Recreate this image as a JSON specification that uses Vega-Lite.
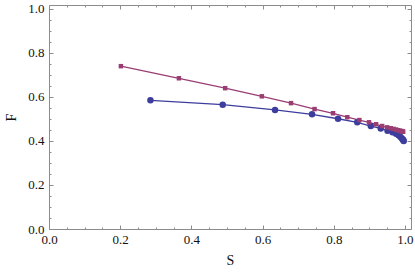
{
  "$schema": "https://vega.github.io/schema/vega-lite/v6.json",
  "width": 362,
  "height": 224,
  "autosize": {"type": "none"},
  "padding": {"left": 49, "top": 5, "right": 4, "bottom": 48},
  "background": "white",
  "config": {
    "view": {"stroke": "#8c8c8c", "strokeWidth": 1},
    "axis": {"labelFont": "Liberation Serif", "titleFont": "Liberation Serif", "labelFontSize": 13, "titleFontSize": 14, "titleFontWeight": "normal", "labelColor": "#111", "titleColor": "#111", "tickColor": "#8c8c8c", "domain": false, "grid": false, "labelOverlap": false, "labelBound": false, "labelFlush": false}
  },
  "data": {"values": [
    {"series": "blue", "S": 0.285, "F": 0.585},
    {"series": "blue", "S": 0.488, "F": 0.565},
    {"series": "blue", "S": 0.635, "F": 0.541},
    {"series": "blue", "S": 0.739, "F": 0.521},
    {"series": "blue", "S": 0.812, "F": 0.501},
    {"series": "blue", "S": 0.866, "F": 0.485},
    {"series": "blue", "S": 0.904, "F": 0.468},
    {"series": "blue", "S": 0.932, "F": 0.457},
    {"series": "blue", "S": 0.951, "F": 0.447},
    {"series": "blue", "S": 0.965, "F": 0.440},
    {"series": "blue", "S": 0.975, "F": 0.433},
    {"series": "blue", "S": 0.982, "F": 0.426},
    {"series": "blue", "S": 0.987, "F": 0.419},
    {"series": "blue", "S": 0.9907, "F": 0.413},
    {"series": "blue", "S": 0.9933, "F": 0.408},
    {"series": "blue", "S": 0.9952, "F": 0.404},
    {"series": "blue", "S": 0.9965, "F": 0.400},
    {"series": "purple", "S": 0.202, "F": 0.740},
    {"series": "purple", "S": 0.365, "F": 0.685},
    {"series": "purple", "S": 0.495, "F": 0.640},
    {"series": "purple", "S": 0.598, "F": 0.603},
    {"series": "purple", "S": 0.680, "F": 0.572},
    {"series": "purple", "S": 0.746, "F": 0.545},
    {"series": "purple", "S": 0.798, "F": 0.526},
    {"series": "purple", "S": 0.838, "F": 0.508},
    {"series": "purple", "S": 0.872, "F": 0.495},
    {"series": "purple", "S": 0.899, "F": 0.485},
    {"series": "purple", "S": 0.919, "F": 0.476},
    {"series": "purple", "S": 0.936, "F": 0.468},
    {"series": "purple", "S": 0.950, "F": 0.462},
    {"series": "purple", "S": 0.960, "F": 0.458},
    {"series": "purple", "S": 0.968, "F": 0.455},
    {"series": "purple", "S": 0.975, "F": 0.452},
    {"series": "purple", "S": 0.980, "F": 0.449},
    {"series": "purple", "S": 0.984, "F": 0.447},
    {"series": "purple", "S": 0.987, "F": 0.446},
    {"series": "purple", "S": 0.990, "F": 0.445},
    {"series": "purple", "S": 0.992, "F": 0.444},
    {"series": "purple", "S": 0.9935, "F": 0.443},
    {"series": "purple", "S": 0.995, "F": 0.442}
  ]},
  "resolve": {"axis": {"x": "independent", "y": "independent"}},
  "layer": [
    {
      "mark": {"type": "line", "strokeWidth": 1.3},
      "encoding": {
        "x": {"field": "S", "type": "quantitative", "scale": {"domain": [0, 1.017], "nice": false, "zero": false},
          "axis": {"orient": "bottom", "values": [0, 0.2, 0.4, 0.6, 0.8, 1.0], "format": ".1f", "ticks": false, "labelPadding": 4, "labelFont": "Liberation Serif", "labelFontSize": 13, "labelColor": "#111", "title": "S", "titlePadding": 7}},
        "y": {"field": "F", "type": "quantitative", "scale": {"domain": [0, 1.018], "nice": false, "zero": false},
          "axis": {"orient": "left", "values": [0, 0.2, 0.4, 0.6, 0.8, 1.0], "format": ".1f", "ticks": false, "labelPadding": 5, "labelFont": "Liberation Serif", "labelFontSize": 13, "labelColor": "#111", "title": "F", "titlePadding": 9}},
        "color": {"field": "series", "type": "nominal", "scale": {"domain": ["blue", "purple"], "range": ["#3d3d9e", "#9a3d73"]}, "legend": null},
        "order": {"field": "S", "type": "quantitative"}
      }
    },
    {
      "mark": {"type": "point", "filled": true, "opacity": 1},
      "encoding": {
        "x": {"field": "S", "type": "quantitative",
          "axis": {"orient": "bottom", "values": [0, 0.05, 0.1, 0.15, 0.2, 0.25, 0.3, 0.35, 0.4, 0.45, 0.5, 0.55, 0.6, 0.65, 0.7, 0.75, 0.8, 0.85, 0.9, 0.95, 1.0], "labels": false, "title": null,
            "tickSize": {"condition": {"test": "abs(datum.value*5 - round(datum.value*5)) < 0.01", "value": -4}, "value": -2}}},
        "y": {"field": "F", "type": "quantitative",
          "axis": {"orient": "left", "values": [0, 0.05, 0.1, 0.15, 0.2, 0.25, 0.3, 0.35, 0.4, 0.45, 0.5, 0.55, 0.6, 0.65, 0.7, 0.75, 0.8, 0.85, 0.9, 0.95, 1.0], "labels": false, "title": null,
            "tickSize": {"condition": {"test": "abs(datum.value*5 - round(datum.value*5)) < 0.01", "value": -4}, "value": -2}}},
        "color": {"field": "series", "type": "nominal", "legend": null},
        "shape": {"field": "series", "type": "nominal", "scale": {"domain": ["blue", "purple"], "range": ["circle", "square"]}, "legend": null},
        "size": {"field": "series", "type": "nominal", "scale": {"domain": ["blue", "purple"], "range": [42, 20]}, "legend": null}
      }
    },
    {
      "mark": {"type": "point", "opacity": 0},
      "encoding": {
        "x": {"field": "S", "type": "quantitative",
          "axis": {"orient": "top", "values": [0, 0.05, 0.1, 0.15, 0.2, 0.25, 0.3, 0.35, 0.4, 0.45, 0.5, 0.55, 0.6, 0.65, 0.7, 0.75, 0.8, 0.85, 0.9, 0.95, 1.0], "labels": false, "title": null,
            "tickSize": {"condition": {"test": "abs(datum.value*5 - round(datum.value*5)) < 0.01", "value": -4}, "value": -2}}},
        "y": {"field": "F", "type": "quantitative",
          "axis": {"orient": "right", "values": [0, 0.05, 0.1, 0.15, 0.2, 0.25, 0.3, 0.35, 0.4, 0.45, 0.5, 0.55, 0.6, 0.65, 0.7, 0.75, 0.8, 0.85, 0.9, 0.95, 1.0], "labels": false, "title": null,
            "tickSize": {"condition": {"test": "abs(datum.value*5 - round(datum.value*5)) < 0.01", "value": -4}, "value": -2}}}
      }
    }
  ]
}
